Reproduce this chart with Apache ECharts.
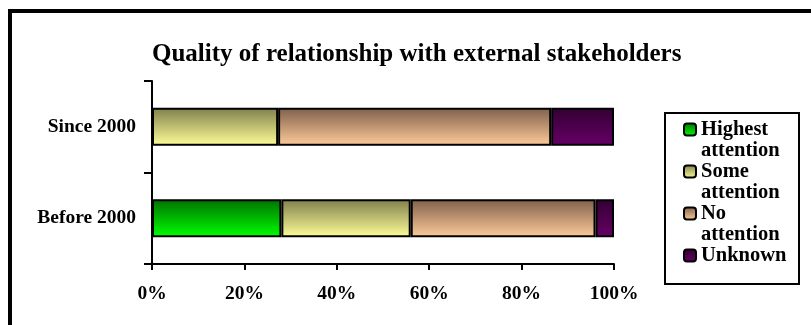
<!DOCTYPE html>
<html>
<head>
<meta charset="utf-8">
<script src="https://cdn.jsdelivr.net/npm/echarts@6/dist/echarts.min.js"></script>
<style>
  html, body { margin: 0; padding: 0; background: #fff; }
  #chart { width: 811px; height: 325px; }
</style>
</head>
<body>
<div id="chart"></div>
<script>
// Periods shown on the vertical axis (bottom to top)
const periods = ['Before 2000', 'Since 2000'];

// Share of respondents per attention level, in percent
const highestAttention = [28, 0];
const someAttention    = [28, 27.3];
const noAttention      = [40, 59.1];
const unknownAttention = [4, 13.6];

// Legend names (two-word names wrap onto a second line)
const seriesNames = ['Highest attention', 'Some attention', 'No attention', 'Unknown'];

// Horizontal axis ticks
const axisMin = 0, axisMax = 100, axisStep = 20;

const SERIF = '"Liberation Serif", "Times New Roman", serif';

function vGrad(top, bottom) {
  return new echarts.graphic.LinearGradient(0, 0, 0, 1, [
    { offset: 0, color: top },
    { offset: 1, color: bottom }
  ]);
}

const fills = [
  vGrad('#007000', '#00ff00'),
  vGrad('#7f7f4c', '#ffff99'),
  vGrad('#7f5f4c', '#ffcc99'),
  vGrad('#330033', '#660066')
];

const values = [highestAttention, someAttention, noAttention, unknownAttention];

const series = seriesNames.map((name, i) => ({
  name: name,
  type: 'bar',
  stack: 'total',
  barWidth: 38,
  data: values[i],
  itemStyle: { color: fills[i], borderColor: '#000', borderWidth: 2 },
  emphasis: { disabled: true }
}));

const chart = echarts.init(document.getElementById('chart'), null, { renderer: 'canvas' });

chart.setOption({
  animation: false,
  backgroundColor: '#fff',
  title: {
    text: 'Quality of relationship with external stakeholders',
    left: 147,
    top: 37,
    textStyle: { fontFamily: SERIF, fontWeight: 'bold', fontSize: 25, color: '#000' }
  },
  grid: { left: 152, top: 81, right: 197, bottom: 61, containLabel: false },
  xAxis: {
    type: 'value',
    min: axisMin,
    max: axisMax,
    interval: axisStep,
    axisLine: { show: true, lineStyle: { color: '#000', width: 2 } },
    axisTick: { show: true, length: 6, lineStyle: { color: '#000', width: 2 } },
    splitLine: { show: false },
    axisLabel: {
      formatter: '{value}%',
      margin: 20,
      color: '#000',
      fontFamily: SERIF,
      fontWeight: 'bold',
      fontSize: 19.5
    }
  },
  yAxis: {
    type: 'category',
    data: periods,
    axisLine: { show: true, lineStyle: { color: '#000', width: 2 } },
    axisTick: { show: true, length: 8, lineStyle: { color: '#000', width: 2 } },
    axisLabel: {
      margin: 16,
      color: '#000',
      fontFamily: SERIF,
      fontWeight: 'bold',
      fontSize: 19.5
    }
  },
  legend: {
    orient: 'vertical',
    left: 683,
    top: 98,
    padding: 0,
    itemWidth: 12,
    itemHeight: 12,
    itemGap: -21,
    selectedMode: false,
    data: seriesNames,
    itemStyle: { borderColor: '#000', borderWidth: 2 },
    formatter: function (name) {
      const parts = name.split(' ');
      // three lines so that the first word sits level with the icon
      return '\n' + parts[0] + '\n' + (parts[1] || ' ');
    },
    textStyle: {
      fontFamily: SERIF,
      fontWeight: 'bold',
      fontSize: 20.5,
      lineHeight: 21,
      color: '#000'
    }
  },
  graphic: [
    {
      type: 'rect',
      shape: { x: 10, y: 11, width: 900, height: 400 },
      style: { fill: 'none', stroke: '#000', lineWidth: 4 },
      silent: true
    },
    {
      type: 'rect',
      shape: { x: 665, y: 113, width: 134, height: 171 },
      style: { fill: 'none', stroke: '#000', lineWidth: 2 },
      silent: true
    }
  ],
  series: series
});
</script>
</body>
</html>
